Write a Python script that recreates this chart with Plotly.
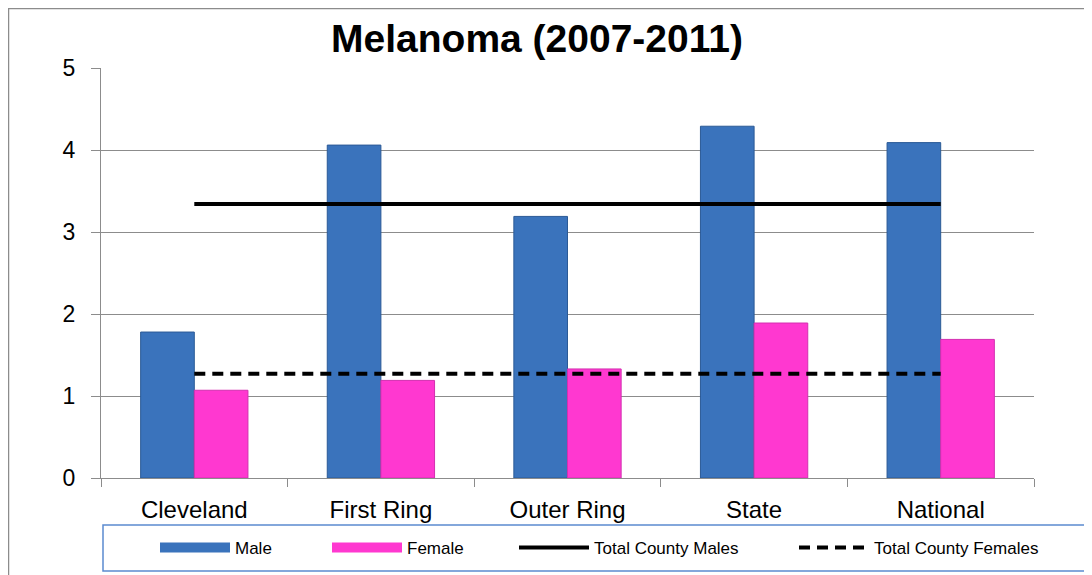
import plotly.graph_objects as go

categories = ["Cleveland", "First Ring", "Outer Ring", "State", "National"]
male = [1.78, 4.06, 3.19, 4.29, 4.09]
female = [1.07, 1.19, 1.33, 1.89, 1.69]
total_county_males = 3.34
total_county_females = 1.27
y_ticks = [0, 1, 2, 3, 4, 5]

FONT = "Liberation Sans, Arial, sans-serif"
MALE_C, MALE_E = "#3A73BC", "#2B5A96"
FEM_C, FEM_E = "#FF38D0", "#D42FB0"

# page is rendered with an 8px body margin: work in reference-pixel coords
OFF = 8
W, H = 1092 - OFF, 575 - OFF
L, T = 101 - OFF, 68 - OFF
PR, PB = 1034 - OFF, 478 - OFF
R, B = W - PR, H - PB
pw, ph = PR - L, PB - T

def px(x):
    return (x - OFF - L) / pw

def py(y):
    return (PB - (y - OFF)) / ph

fig = go.Figure()
fig.add_trace(go.Bar(
    name="Male", x=categories, y=male, showlegend=False, legendgroup="m",
    marker=dict(color=MALE_C, line=dict(color=MALE_E, width=1)),
))
fig.add_trace(go.Bar(
    name="Female", x=categories, y=female, showlegend=False, legendgroup="f",
    marker=dict(color=FEM_C, line=dict(color=FEM_E, width=1)),
))
fig.add_trace(go.Scatter(
    name="Total County Males", x=categories,
    y=[total_county_males] * len(categories), legend="legend3",
    mode="lines", line=dict(color="black", width=4),
))
fig.add_trace(go.Scatter(
    name="Total County Females", x=categories,
    y=[total_county_females] * len(categories), legend="legend4",
    mode="lines", line=dict(color="black", width=4, dash="11px,7px"),
))
# legend swatches for the bar series (wide bars as in the original legend)
fig.add_trace(go.Scatter(
    name="Male", x=[None], y=[None], mode="lines", legend="legend", legendgroup="m",
    line=dict(color=MALE_C, width=10), hoverinfo="skip",
))
fig.add_trace(go.Scatter(
    name="Female", x=[None], y=[None], mode="lines", legend="legend2", legendgroup="f",
    line=dict(color=FEM_C, width=10), hoverinfo="skip",
))

def leg(xref_px):
    return dict(orientation="h", x=px(xref_px), xanchor="left",
                y=py(548), yanchor="middle",
                bgcolor="rgba(0,0,0,0)", borderwidth=0,
                itemwidth=70,
                font=dict(size=17, family=FONT, color="black"))

fig.update_layout(
    width=W, height=H,
    margin=dict(l=L, r=R, t=T, b=B, pad=0, autoexpand=False),
    paper_bgcolor="white", plot_bgcolor="white",
    barmode="group", bargap=0.425, bargroupgap=0,
    font=dict(family=FONT, color="black"),
    title=dict(text="<b>Melanoma (2007-2011)</b>", x=px(537), xref="paper",
               xanchor="center", y=1 - (38 - OFF) / H, yanchor="middle",
               font=dict(size=39, family=FONT, color="black")),
    showlegend=True,
    legend=leg(155), legend2=leg(327), legend3=leg(514), legend4=leg(794),
    xaxis=dict(showgrid=False, showline=True, linecolor="#8C8C8C", linewidth=1,
               ticks="outside", tickson="boundaries", ticklen=8, tickcolor="#8C8C8C",
               tickfont=dict(size=24, family=FONT, color="black"),
               ticklabelstandoff=10, range=[-0.5, 4.5]),
    yaxis=dict(range=[0, 5], tickvals=y_ticks, showgrid=True, gridcolor="#8C8C8C",
               gridwidth=1, showline=True, linecolor="#8C8C8C", linewidth=1,
               ticks="outside", ticklen=9, tickcolor="#8C8C8C", zeroline=False,
               tickfont=dict(size=23, family=FONT, color="black"), ticklabelstandoff=11),
    shapes=[
        dict(type="rect", xref="paper", yref="paper",
             x0=px(8.5), x1=px(1120), y0=py(600), y1=py(8.5),
             line=dict(color="#8C8C8C", width=1.5), fillcolor="rgba(0,0,0,0)", layer="below"),
        dict(type="rect", xref="paper", yref="paper",
             x0=px(103), x1=px(1086), y0=py(571), y1=py(525),
             line=dict(color="#5B8BD0", width=1.5), fillcolor="rgba(0,0,0,0)"),
    ],
)

fig.write_html("out.html")
